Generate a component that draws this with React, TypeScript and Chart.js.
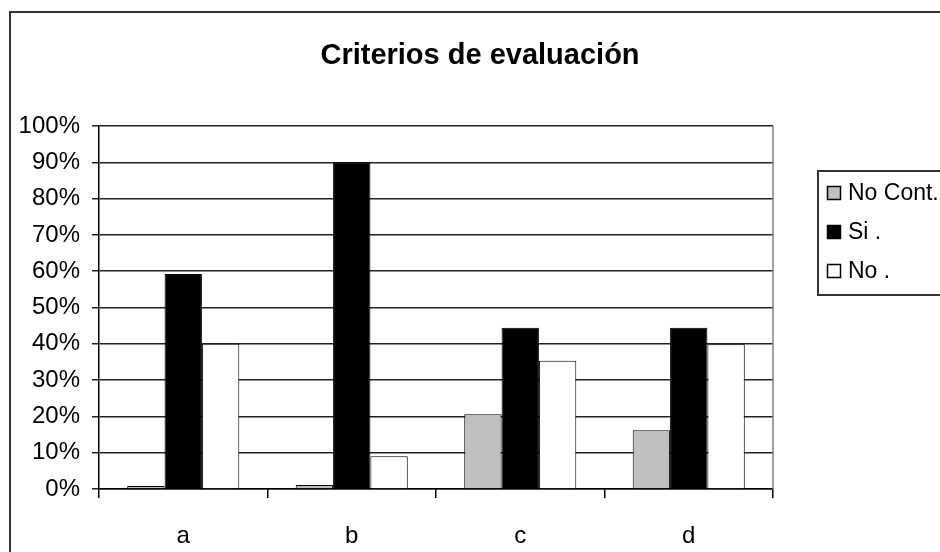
import React, { useEffect, useRef } from "react";
import { Chart, registerables } from "chart.js";

Chart.register(...registerables);

const chartTitle = "Criterios de evaluación";
const categories = ["a", "b", "c", "d"];
const seriesNames = ["No Cont.", "Si .", "No ."];
const noContValues = [0.8, 1.1, 20.6, 16.2];
const siValues = [59.2, 90, 44.4, 44.4];
const noValues = [40, 9, 35.3, 39.9];
const seriesColors = ["#C0C0C0", "#000000", "#FFFFFF"];
const yMin = 0;
const yMax = 100;
const yStep = 10;

const FONT = "'Liberation Sans', Arial, sans-serif";

const decorPlugin = {
  id: "decor",
  afterDraw(chart: any) {
    const ctx = chart.ctx as CanvasRenderingContext2D;
    const area = chart.chartArea;
    ctx.save();
    // outer frame
    ctx.strokeStyle = "#333";
    ctx.lineWidth = 2;
    ctx.beginPath();
    ctx.moveTo(10, 600);
    ctx.lineTo(10, 12);
    ctx.lineTo(1000, 12);
    ctx.stroke();
    // plot right border
    ctx.strokeStyle = "#808080";
    ctx.lineWidth = 1.5;
    ctx.beginPath();
    ctx.moveTo(area.right, area.top);
    ctx.lineTo(area.right, area.bottom);
    ctx.stroke();
    // title
    ctx.fillStyle = "#000";
    ctx.font = `bold 29px ${FONT}`;
    ctx.textAlign = "center";
    ctx.textBaseline = "middle";
    ctx.fillText(chartTitle, 480, 56);
    // legend box
    ctx.strokeStyle = "#333";
    ctx.lineWidth = 2;
    ctx.strokeRect(818, 171, 200, 124);
    ctx.font = `23px ${FONT}`;
    ctx.textAlign = "left";
    chart.data.datasets.forEach((ds: any, i: number) => {
      const cy = 193 + i * 39;
      ctx.fillStyle = ds.backgroundColor;
      ctx.fillRect(827, cy - 7, 14, 14);
      ctx.strokeStyle = "#000";
      ctx.lineWidth = 1.5;
      ctx.strokeRect(827.5, cy - 6.5, 13, 13);
      ctx.fillStyle = "#000";
      ctx.fillText(ds.label, 848, cy + 1);
    });
    ctx.restore();
  },
};

export default function App() {
  const ref = useRef<HTMLCanvasElement>(null);
  useEffect(() => {
    if (!ref.current) return;
    const values = [noContValues, siValues, noValues];
    const chart = new Chart(ref.current, {
      type: "bar",
      data: {
        labels: categories,
        datasets: seriesNames.map((name, i) => ({
          label: name,
          data: values[i],
          backgroundColor: seriesColors[i],
          borderColor: "#000",
          borderWidth: 1,
          categoryPercentage: 0.665,
          barPercentage: 1,
        })),
      },
      options: {
        responsive: false,
        animation: false,
        events: [],
        layout: { padding: { left: 20, right: 167, top: 126, bottom: 0 } },
        plugins: {
          legend: { display: false },
          title: { display: false },
          tooltip: { enabled: false },
        },
        scales: {
          x: {
            offset: true,
            grid: {
              offset: true,
              drawOnChartArea: false,
              drawTicks: true,
              tickLength: 9,
              color: "#000",
              lineWidth: 1.5,
            },
            border: { display: true, color: "#000", width: 1.5 },
            ticks: {
              color: "#000",
              font: { family: FONT, size: 24 },
              padding: 24,
            },
            afterFit: (s: any) => {
              s.height = 63;
            },
          },
          y: {
            min: yMin,
            max: yMax,
            grid: {
              drawOnChartArea: true,
              drawTicks: true,
              tickLength: 7,
              color: "#222",
              lineWidth: 1.5,
            },
            border: { display: true, color: "#000", width: 1.5 },
            ticks: {
              stepSize: yStep,
              color: "#000",
              font: { family: FONT, size: 24 },
              padding: 12,
              callback: (v: any) => `${v}%`,
            },
            afterFit: (s: any) => {
              s.width = 79;
            },
          },
        },
      },
      plugins: [decorPlugin],
    });
    return () => chart.destroy();
  }, []);
  return (
    <div style={{ position: "absolute", left: 0, top: 0, width: 940, height: 552, background: "#fff" }}>
      <canvas ref={ref} width={940} height={552} style={{ display: "block" }} />
    </div>
  );
}
